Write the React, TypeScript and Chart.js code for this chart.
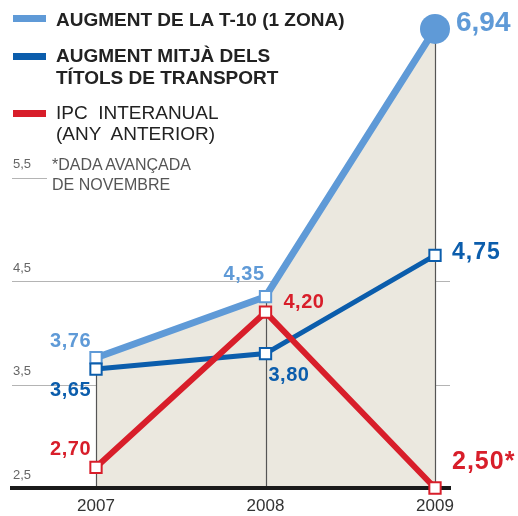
import React, { useEffect, useRef } from 'react';
import { Chart, registerables } from 'chart.js';

Chart.register(...registerables);

// ---- data ----
const years = [2007, 2008, 2009];
const t10Values = [3.76, 4.35, 6.94];
const mitjaValues = [3.65, 3.8, 4.75];
const ipcValues = [2.7, 4.2, 2.5];
const ipcSuffix = ['', '', '*'];
const yTickValues = [2.5, 3.5, 4.5, 5.5];
const gridValuesFull = [3.5, 4.5];
const gridValuesShort = [5.5];

const legendT10 = ['AUGMENT DE LA T-10 (1 ZONA)'];
const legendMitja = ['AUGMENT MITJÀ DELS', 'TÍTOLS DE TRANSPORT'];
const legendIpc = ['IPC  INTERANUAL', '(ANY  ANTERIOR)'];
const noteLines = ['*DADA AVANÇADA', 'DE NOVEMBRE'];

// ---- style ----
const LB = '#5f9ad7';
const DB = '#0b5dac';
const RED = '#d81e2a';
const FILL = '#ebe8df';
const FONT = "'Liberation Sans', Arial, Helvetica, sans-serif";

type LabelStyle = { dx: number; dy: number; align: CanvasTextAlign; size: number; spacing: number };
const t10LabelStyle: LabelStyle[] = [
  { dx: -5, dy: -16, align: 'right', size: 20, spacing: 0.5 },
  { dx: -1, dy: -22, align: 'right', size: 20, spacing: 0.5 },
  { dx: 21, dy: -6, align: 'left', size: 28, spacing: 0 },
];
const mitjaLabelStyle: LabelStyle[] = [
  { dx: -5, dy: 21, align: 'right', size: 20, spacing: 0.5 },
  { dx: 3, dy: 22, align: 'left', size: 20, spacing: 0.5 },
  { dx: 17, dy: -3, align: 'left', size: 23, spacing: 1 },
];
const ipcLabelStyle: LabelStyle[] = [
  { dx: -5, dy: -18, align: 'right', size: 20, spacing: 0.5 },
  { dx: 18, dy: -10, align: 'left', size: 20, spacing: 0.5 },
  { dx: 17, dy: -26, align: 'left', size: 25, spacing: 1 },
];

const fmt = (v: number) => v.toFixed(2).replace('.', ',');

const decorPlugin = {
  id: 'decor',
  beforeDatasetsDraw(chart: any) {
    const { ctx, chartArea, scales } = chart;
    const ys = scales.y;
    ctx.save();
    ctx.strokeStyle = '#b4b4b4';
    ctx.lineWidth = 1;
    for (const v of gridValuesFull) {
      const py = Math.round(ys.getPixelForValue(v)) + 0.5;
      ctx.beginPath();
      ctx.moveTo(chartArea.left, py);
      ctx.lineTo(chartArea.right, py);
      ctx.stroke();
    }
    for (const v of gridValuesShort) {
      const py = Math.round(ys.getPixelForValue(v)) + 0.5;
      ctx.beginPath();
      ctx.moveTo(chartArea.left, py);
      ctx.lineTo(chartArea.left + 35, py);
      ctx.stroke();
    }
    ctx.restore();
  },
  afterDatasetDraw(chart: any, args: any) {
    if (args.index !== 3) return;
    const { ctx, chartArea, scales } = chart;
    const xs = scales.x;
    const ys = scales.y;
    ctx.save();
    ctx.strokeStyle = '#555';
    ctx.lineWidth = 1.2;
    years.forEach((yr, i) => {
      const px = Math.round(xs.getPixelForValue(yr)) + 0.5;
      ctx.beginPath();
      ctx.moveTo(px, chartArea.bottom);
      ctx.lineTo(px, ys.getPixelForValue(t10Values[i]));
      ctx.stroke();
    });
    ctx.strokeStyle = '#1a1a1a';
    ctx.lineWidth = 4;
    ctx.beginPath();
    ctx.moveTo(chartArea.left, chartArea.bottom);
    ctx.lineTo(chartArea.right, chartArea.bottom);
    ctx.stroke();
    ctx.restore();
  },
  afterDatasetsDraw(chart: any) {
    const { ctx, scales } = chart;
    const xs = scales.x;
    const ys = scales.y;
    const groups = [
      { values: t10Values, color: LB, style: t10LabelStyle, suffix: ['', '', ''] },
      { values: mitjaValues, color: DB, style: mitjaLabelStyle, suffix: ['', '', ''] },
      { values: ipcValues, color: RED, style: ipcLabelStyle, suffix: ipcSuffix },
    ];
    ctx.save();
    ctx.textBaseline = 'middle';
    for (const g of groups) {
      g.values.forEach((v, i) => {
        const st = g.style[i];
        const px = xs.getPixelForValue(years[i]);
        const py = ys.getPixelForValue(v);
        ctx.font = `bold ${st.size}px ${FONT}`;
        (ctx as any).letterSpacing = `${st.spacing}px`;
        ctx.fillStyle = g.color;
        ctx.textAlign = st.align;
        ctx.fillText(fmt(v) + g.suffix[i], px + st.dx, py + st.dy);
      });
    }
    ctx.restore();
  },
};

const toPoints = (vals: number[]) => years.map((x, i) => ({ x, y: vals[i] }));

export default function App() {
  const ref = useRef<HTMLCanvasElement | null>(null);

  useEffect(() => {
    if (!ref.current) return;
    const chart = new Chart(ref.current, {
      type: 'line',
      data: {
        datasets: [
          {
            label: 'AUGMENT DE LA T-10 (1 ZONA)',
            data: toPoints(t10Values),
            borderColor: LB,
            borderWidth: 7,
            pointStyle: ['rect', 'rect', 'circle'] as any,
            pointRadius: [8, 8, 15] as any,
            pointBackgroundColor: ['#ffffff', '#ffffff', LB] as any,
            pointBorderColor: LB,
            pointBorderWidth: [2, 2, 0] as any,
            fill: false,
            order: 3,
            clip: false as any,
          },
          {
            label: 'AUGMENT MITJÀ DELS TÍTOLS DE TRANSPORT',
            data: toPoints(mitjaValues),
            borderColor: DB,
            borderWidth: 5,
            pointStyle: 'rect',
            pointRadius: 8,
            pointBackgroundColor: '#ffffff',
            pointBorderColor: DB,
            pointBorderWidth: 2,
            fill: false,
            order: 2,
            clip: false as any,
          },
          {
            label: 'IPC INTERANUAL (ANY ANTERIOR)',
            data: toPoints(ipcValues),
            borderColor: RED,
            borderWidth: 6,
            pointStyle: 'rect',
            pointRadius: 8,
            pointBackgroundColor: '#ffffff',
            pointBorderColor: RED,
            pointBorderWidth: 2,
            fill: false,
            order: 1,
            clip: false as any,
          },
          {
            label: 'area',
            data: toPoints(t10Values),
            borderWidth: 0,
            borderColor: 'rgba(0,0,0,0)',
            pointRadius: 0,
            backgroundColor: FILL,
            fill: 'start',
            order: 4,
          },
        ],
      },
      options: {
        animation: false,
        responsive: false,
        events: [],
        layout: { autoPadding: false, padding: { left: 12, right: 68, top: 2, bottom: 0 } },
        plugins: { legend: { display: false }, tooltip: { enabled: false } },
        scales: {
          x: {
            type: 'linear',
            min: 2006.5044,
            max: 2009.0885,
            afterBuildTicks: (scale: any) => {
              scale.ticks = years.map((v) => ({ value: v }));
            },
            afterFit: (scale: any) => {
              scale.height = 28;
            },
            ticks: {
              callback: (v: any) => String(v),
              font: { size: 17, family: FONT },
              color: '#333',
              padding: 8,
              maxRotation: 0,
            },
            grid: { display: false, drawTicks: false },
            border: { display: true, color: '#1a1a1a', width: 4 },
          },
          y: {
            type: 'linear',
            min: 2.5,
            max: 7.2,
            afterBuildTicks: (scale: any) => {
              scale.ticks = yTickValues.map((v) => ({ value: v }));
            },
            afterFit: (scale: any) => {
              scale.width = 0;
              scale.paddingTop = 0;
              scale.paddingBottom = 0;
            },
            ticks: {
              mirror: true,
              padding: 1,
              labelOffset: -13,
              callback: (v: any) => Number(v).toFixed(1).replace('.', ','),
              font: { size: 13, family: FONT },
              color: '#666',
            },
            grid: { display: false, drawTicks: false },
            border: { display: false },
          },
        },
      },
      plugins: [decorPlugin],
    });
    return () => chart.destroy();
  }, []);

  const swatch = (top: number, color: string) => (
    <div style={{ position: 'absolute', left: 13, top, width: 33, height: 7, background: color }} />
  );
  const textBlock = (top: number, lines: string[], bold: boolean, size: number, lh: number, color: string) => (
    <div
      style={{
        position: 'absolute',
        left: 56,
        top,
        fontFamily: FONT,
        fontWeight: bold ? 'bold' : 'normal',
        fontSize: size,
        lineHeight: `${lh}px`,
        color,
        whiteSpace: 'pre',
      }}
    >
      {lines.map((l, i) => (
        <div key={i}>{l}</div>
      ))}
    </div>
  );

  return (
    <div style={{ position: 'fixed', left: 0, top: 0, width: 518, height: 516, background: '#fff' }}>
      <canvas ref={ref} width={518} height={516} style={{ display: 'block', position: 'absolute', left: 0, top: 0 }} />
      {swatch(15, LB)}
      {textBlock(9, legendT10, true, 19, 22, '#222')}
      {swatch(53, DB)}
      {textBlock(45, legendMitja, true, 19, 22, '#222')}
      {swatch(110, RED)}
      {textBlock(102, legendIpc, false, 19, 21, '#222')}
      <div
        style={{
          position: 'absolute',
          left: 52,
          top: 155,
          fontFamily: FONT,
          fontSize: 16,
          lineHeight: '20px',
          color: '#555',
          whiteSpace: 'pre',
        }}
      >
        {noteLines.map((l, i) => (
          <div key={i}>{l}</div>
        ))}
      </div>
    </div>
  );
}
